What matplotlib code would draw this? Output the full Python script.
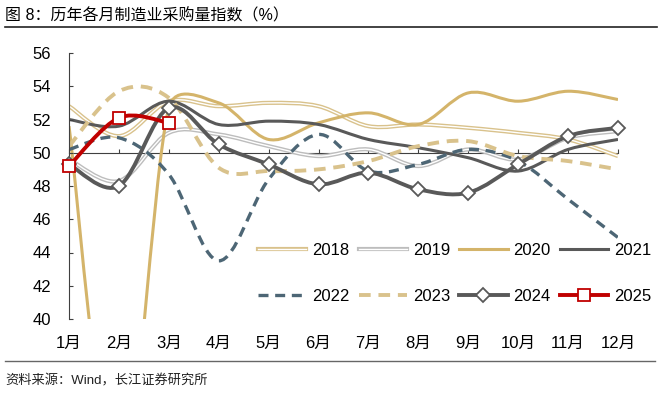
import matplotlib
matplotlib.use("Agg")
import matplotlib.pyplot as plt
import matplotlib.patheffects as pe
from matplotlib.path import Path
from matplotlib.patches import PathPatch
from matplotlib.lines import Line2D

plt.rcParams['font.family'] = ['Liberation Sans', 'Noto Sans CJK SC', 'DejaVu Sans']

# ==========================================
# data (monthly index, %)
# ==========================================
bulan = ["1月", "2月", "3月", "4月", "5月", "6月", "7月", "8月", "9月", "10月", "11月", "12月"]

y2018 = [52.8, 51.0, 53.1, 52.8, 53.0, 52.8, 51.6, 51.7, 51.5, 51.2, 50.8, 49.8]
y2019 = [49.6, 48.3, 51.2, 51.1, 50.4, 49.8, 50.2, 49.2, 50.2, 49.6, 50.9, 51.3]
y2020 = [51.6, 29.3, 52.7, 53.0, 50.8, 51.8, 52.4, 51.7, 53.6, 53.1, 53.7, 53.2]
y2021 = [52.0, 51.6, 53.1, 51.7, 51.9, 51.7, 50.8, 50.3, 49.7, 48.9, 50.2, 50.8]
y2022 = [50.2, 50.9, 48.7, 43.5, 48.4, 51.1, 48.9, 49.3, 50.2, 49.5, 47.2, 44.9]
y2023 = [50.4, 53.7, 53.3, 49.1, 48.9, 49.0, 49.5, 50.4, 50.7, 49.8, 49.5, 49.0]
y2024 = [49.3, 48.0, 52.7, 50.5, 49.3, 48.1, 48.8, 47.8, 47.6, 49.3, 51.0, 51.5]
y2025 = [49.2, 52.1, 51.8]

# pixel size of one month / one index point, used only for the curve smoothing
SX, SY = 49.9, 16.625


def smooth_path(vals):
    # Excel style smoothed line: cubic bezier, handle length capped at half the segment
    pts = [((i + 1) * SX, v * SY) for i, v in enumerate(vals)]

    def handle(a, b, cap):
        dx, dy = (b[0] - a[0]) / 6, (b[1] - a[1]) / 6
        d = (dx ** 2 + dy ** 2) ** 0.5
        if d > cap and d > 0:
            dx, dy = dx * cap / d, dy * cap / d
        return dx, dy

    verts = [pts[0]]
    codes = [Path.MOVETO]
    n = len(pts)
    for i in range(n - 1):
        p0 = pts[i - 1] if i > 0 else pts[i]
        p1 = pts[i]
        p2 = pts[i + 1]
        p3 = pts[i + 2] if i + 2 < n else pts[i + 1]
        seg = ((p2[0] - p1[0]) ** 2 + (p2[1] - p1[1]) ** 2) ** 0.5
        h1 = handle(p0, p2, seg / 2)
        h2 = handle(p1, p3, seg / 2)
        verts += [(p1[0] + h1[0], p1[1] + h1[1]), (p2[0] - h2[0], p2[1] - h2[1]), p2]
        codes += [Path.CURVE4] * 3
    verts = [(x / SX, y / SY) for x, y in verts]
    return Path(verts, codes)


def double_fx(color):
    return [pe.Stroke(linewidth=3.0, foreground=color), pe.Stroke(linewidth=1.0, foreground="white")]


fig = plt.figure(figsize=(6.6, 3.96), dpi=100)
ax = fig.add_axes([69 / 660, 1 - 319 / 396, 549 / 660, 266 / 396])

gaya = [
    ("2018", y2018, dict(color="#D9C28C", lw=3.0, ls="-"), double_fx("#D9C28C"), None),
    ("2019", y2019, dict(color="#BDBDBD", lw=3.0, ls="-"), double_fx("#BDBDBD"), None),
    ("2020", y2020, dict(color="#D4B46A", lw=2.2, ls="-"), None, None),
    ("2021", y2021, dict(color="#595959", lw=2.2, ls="-"), None, None),
    ("2022", y2022, dict(color="#4D6675", lw=2.4, ls=(0, (3, 2))), None, None),
    ("2023", y2023, dict(color="#D9C28C", lw=2.8, ls=(0, (3, 2))), None, None),
    ("2024", y2024, dict(color="#595959", lw=2.8, ls="-"), None,
     dict(marker="D", ms=7, mfc="white", mec="#595959", mew=1.3)),
    ("2025", y2025, dict(color="#C00000", lw=2.8, ls="-"), None,
     dict(marker="s", ms=9, mfc="white", mec="#C00000", mew=1.3)),
]

handles = {}
for nama, vals, st, fx, mk in gaya:
    patch = PathPatch(smooth_path(vals), fill=False, edgecolor=st["color"],
                      linewidth=st["lw"], linestyle=st["ls"], capstyle="butt")
    if fx:
        patch.set_path_effects(fx)
    ax.add_patch(patch)
    if mk:
        ax.plot(range(1, len(vals) + 1), vals, linestyle="none", zorder=3, clip_on=False, **mk)
    h = Line2D([], [], color=st["color"], lw=st["lw"], ls=st["ls"], **(mk or {}))
    if fx:
        h.set_path_effects(fx)
    handles[nama] = h

ax.set_xlim(1, 12)
ax.set_ylim(40, 56)
ax.set_yticks(range(40, 57, 2))
ax.set_xticks(range(1, 13))
ax.set_xticklabels(bulan)

for s in ["top", "right", "bottom"]:
    ax.spines[s].set_visible(False)
ax.spines["left"].set_color("#404040")
ax.tick_params(axis="y", direction="in", length=3, color="#404040", pad=13, labelsize=12)
ax.tick_params(axis="x", length=0, pad=12, labelsize=12)

# x axis line crossing at 50
sec = ax.secondary_xaxis((50 - 40) / 16)
sec.set_xticks(range(1, 13))
sec.tick_params(length=3, color="#404040", labeltop=False, labelbottom=False)
for s in sec.spines.values():
    s.set_color("#404040")

# legend fills column by column, so order for two rows of four
urutan = ["2018", "2022", "2019", "2023", "2020", "2024", "2021", "2025"]
ax.legend([handles[k] for k in urutan], urutan, ncol=4, frameon=False,
          loc="upper left", bbox_to_anchor=(258 / 660, 1 - 243 / 396),
          bbox_transform=fig.transFigure, fontsize=12, handlelength=2.9,
          handletextpad=0.35, columnspacing=0.55, labelspacing=1.85,
          borderpad=0, borderaxespad=0)

fig.text(5 / 660, 1 - 16 / 396, "图 8：历年各月制造业采购量指数（%）", fontsize=11.5,
         va="center", ha="left")
fig.add_artist(Line2D([5 / 660, 657 / 660], [1 - 27 / 396] * 2, color="#222222", lw=1.2))
fig.add_artist(Line2D([5 / 660, 655 / 660], [1 - 361 / 396] * 2, color="#666666", lw=1.0))
fig.text(5 / 660, 1 - 381 / 396, "资料来源：Wind，长江证券研究所", fontsize=9.5,
         va="center", ha="left", color="#222222")

fig.savefig("out.png", dpi=100)
